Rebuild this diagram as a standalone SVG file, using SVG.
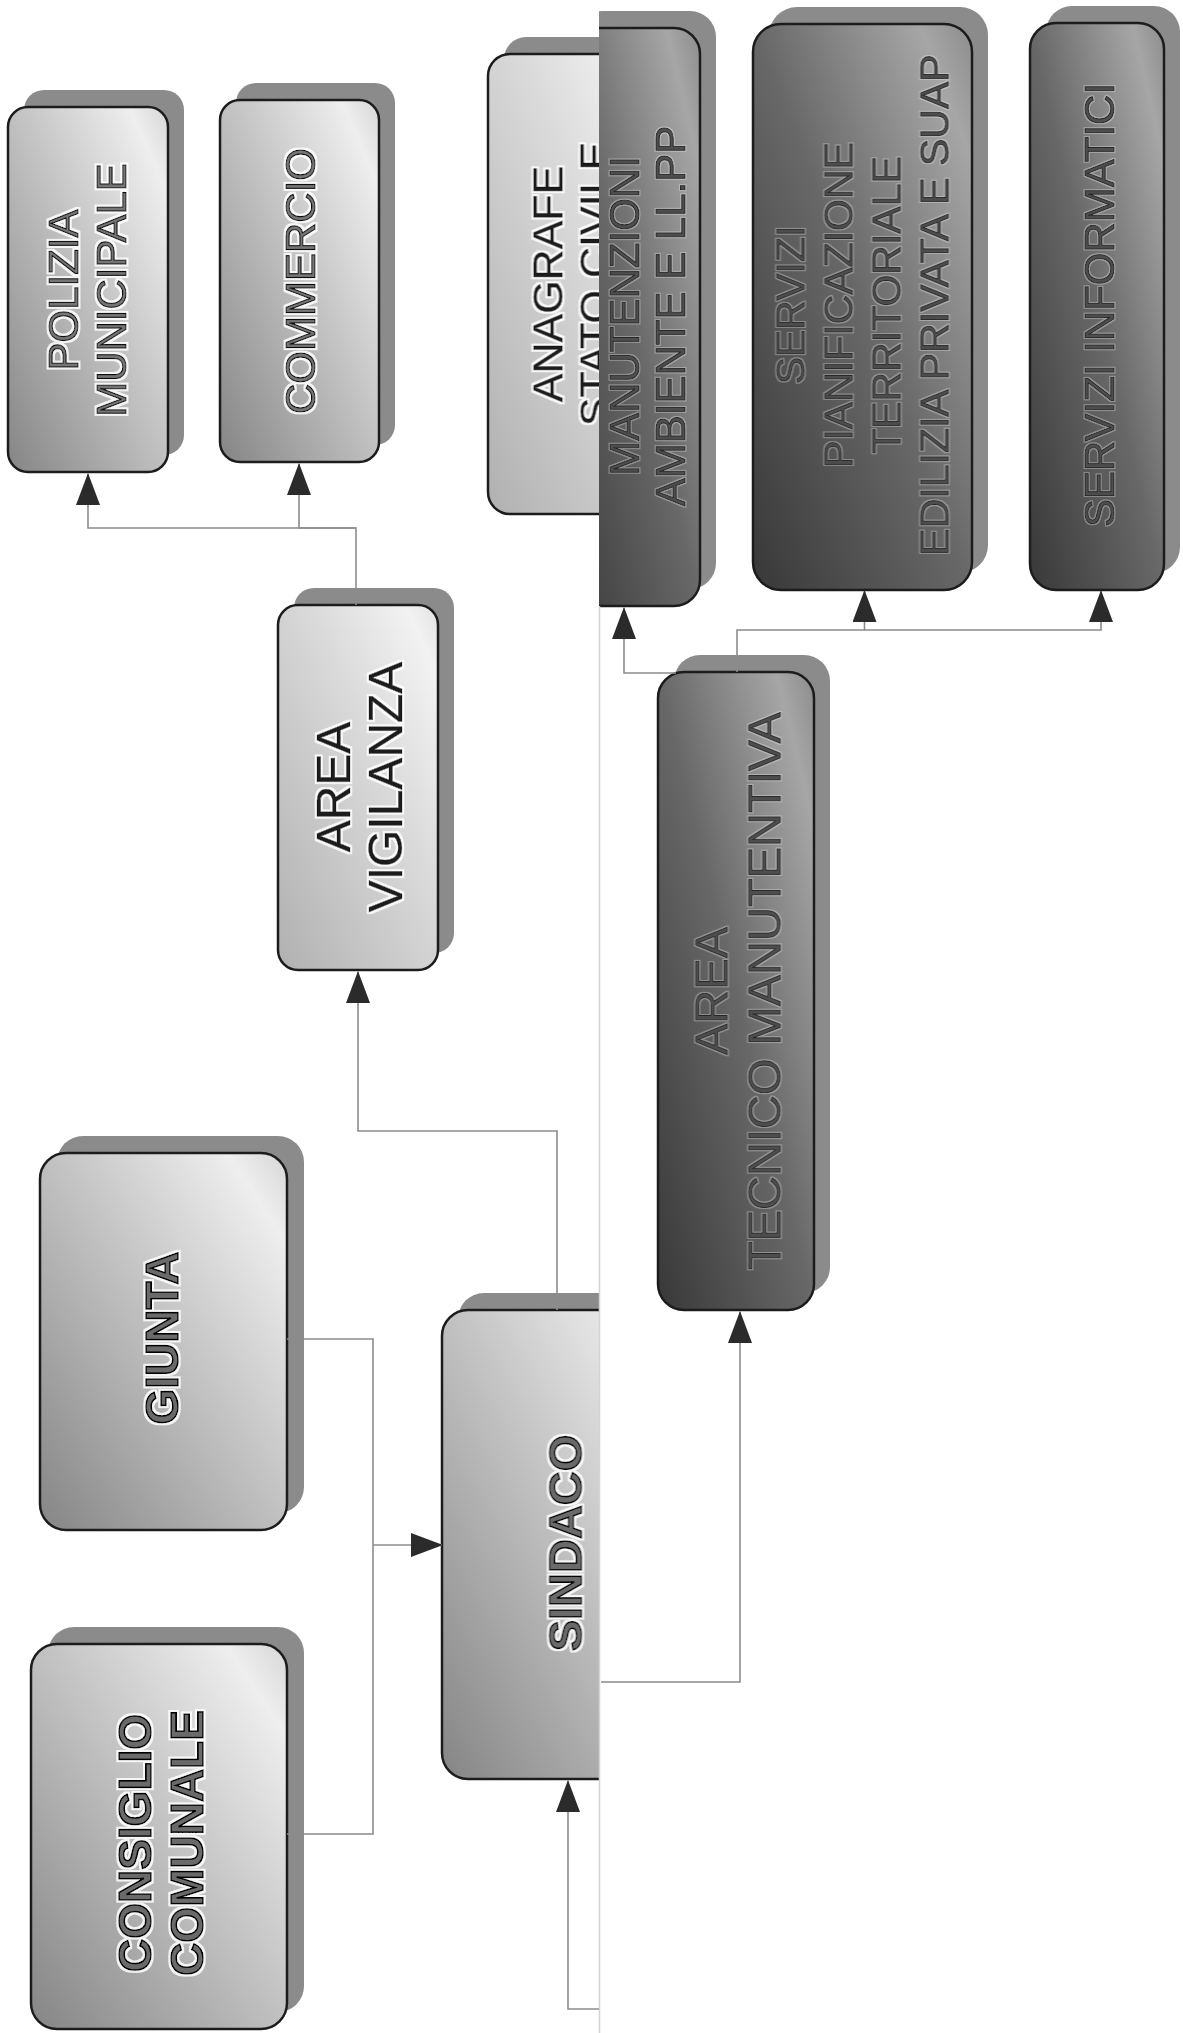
<svg xmlns="http://www.w3.org/2000/svg" width="1183" height="2033" viewBox="0 0 1183 2033">
<style>
.shadow{fill:#8b8b8b}
.front{stroke:#1c1c1c;stroke-width:2.5}
.lbl{font-family:"Liberation Sans",Arial,sans-serif;text-anchor:middle}
.t-light{fill:#747474;stroke:#111;stroke-width:1.2;filter:url(#halo)}
.t-black{fill:#1e1e1e;stroke:#000;stroke-width:0.6;filter:url(#halo)}
.t-bold{font-weight:bold;fill:#6a6a6a;stroke:#000;stroke-width:1.6;filter:url(#halo)}
.t-dark{fill:#4e4e4e;stroke:#262626;stroke-width:1;filter:url(#haloSoft)}
.conn{fill:none;stroke:#8c8c8c;stroke-width:1.6}
.seam{stroke:#d4d4d4;stroke-width:1.5}
</style>
<defs>
<linearGradient id="gLight" x1="0" y1="1" x2="1" y2="0">
<stop offset="0" stop-color="#858585"/><stop offset="0.55" stop-color="#c6c6c6"/><stop offset="0.88" stop-color="#eeeeee"/><stop offset="1" stop-color="#d6d6d6"/>
</linearGradient>
<linearGradient id="gPale" x1="0" y1="1" x2="1" y2="0">
<stop offset="0" stop-color="#b0b0b0"/><stop offset="0.6" stop-color="#dadada"/><stop offset="0.9" stop-color="#f2f2f2"/><stop offset="1" stop-color="#e2e2e2"/>
</linearGradient>
<linearGradient id="gDark" x1="0" y1="1" x2="1" y2="0">
<stop offset="0" stop-color="#383838"/><stop offset="0.5" stop-color="#686868"/><stop offset="0.88" stop-color="#a6a6a6"/><stop offset="1" stop-color="#8c8c8c"/>
</linearGradient>
<filter id="halo"><feMorphology in="SourceAlpha" operator="dilate" radius="1.6" result="d"/><feFlood flood-color="#ffffff" flood-opacity="0.85"/><feComposite in2="d" operator="in" result="h"/><feMerge><feMergeNode in="h"/><feMergeNode in="SourceGraphic"/></feMerge></filter>
<filter id="haloSoft"><feMorphology in="SourceAlpha" operator="dilate" radius="1.4" result="d"/><feFlood flood-color="#ffffff" flood-opacity="0.3"/><feComposite in2="d" operator="in" result="h"/><feMerge><feMergeNode in="h"/><feMergeNode in="SourceGraphic"/></feMerge></filter>
<clipPath id="clipLeft"><rect x="0" y="0" width="599" height="2033"/></clipPath>
<clipPath id="clipRight"><rect x="599" y="0" width="584" height="2033"/></clipPath>
<marker id="arr" markerUnits="userSpaceOnUse" markerWidth="32" markerHeight="24" viewBox="0 0 32 24" refX="31" refY="12" orient="auto"><path d="M0,0 L32,12 L0,24 Z" fill="#2b2b2b"/></marker>
</defs>
<rect x="0" y="0" width="1183" height="2033" fill="#ffffff"/>

<g id="polizia-municipale">
<rect class="shadow" x="24" y="90" width="160" height="365" rx="20"/>
<rect class="front" x="8" y="107" width="160" height="365" rx="20" fill="url(#gLight)"/>
<text class="lbl t-light" font-size="42" transform="translate(87,290) rotate(-90)"><tspan x="0" y="-9">POLIZIA</tspan><tspan x="0" y="39">MUNICIPALE</tspan></text>
</g>

<g id="commercio">
<rect class="shadow" x="236" y="83" width="159" height="362" rx="20"/>
<rect class="front" x="220" y="100" width="159" height="362" rx="20" fill="url(#gLight)"/>
<text class="lbl t-light" font-size="42" transform="translate(300,281) rotate(-90)"><tspan x="0" y="15">COMMERCIO</tspan></text>
</g>

<g id="anagrafe" clip-path="url(#clipLeft)">
<rect class="shadow" x="504" y="37" width="170" height="460" rx="22"/>
<rect class="front" x="488" y="54" width="170" height="460" rx="22" fill="url(#gPale)"/>
<text class="lbl t-black" font-size="43" transform="translate(570.5,284) rotate(-90)"><tspan x="0" y="-8">ANAGRAFE</tspan><tspan x="0" y="39">STATO CIVILE</tspan></text>
</g>

<g id="area-vigilanza">
<rect class="shadow" x="294" y="588" width="160" height="365" rx="20"/>
<rect class="front" x="278" y="605" width="160" height="365" rx="20" fill="url(#gPale)"/>
<text class="lbl t-black" font-size="48" transform="translate(359,787) rotate(-90)"><tspan x="0" y="-9">AREA</tspan><tspan x="0" y="43">VIGILANZA</tspan></text>
</g>

<g id="giunta">
<rect class="shadow" x="57" y="1136" width="247" height="377" rx="26"/>
<rect class="front" x="40" y="1153" width="247" height="377" rx="26" fill="url(#gLight)"/>
<text class="lbl t-bold" font-size="46" transform="translate(161,1338) rotate(-90)"><tspan x="0" y="16.5">GIUNTA</tspan></text>
</g>

<g id="consiglio-comunale">
<rect class="shadow" x="48" y="1627" width="256" height="385" rx="26"/>
<rect class="front" x="31" y="1644" width="256" height="385" rx="26" fill="url(#gLight)"/>
<text class="lbl t-bold" font-size="46" transform="translate(160,1843) rotate(-90)"><tspan x="0" y="-9.5">CONSIGLIO</tspan><tspan x="0" y="42.5">COMUNALE</tspan></text>
</g>

<g id="sindaco" clip-path="url(#clipLeft)">
<rect class="shadow" x="458" y="1293" width="245" height="469" rx="26"/>
<rect class="front" x="442" y="1310" width="245" height="469" rx="26" fill="url(#gLight)"/>
<text class="lbl t-bold" font-size="47" transform="translate(564.5,1543) rotate(-90)"><tspan x="0" y="17">SINDACO</tspan></text>
</g>

<g id="manutenzioni" clip-path="url(#clipRight)">
<rect class="shadow" x="576" y="11" width="140" height="578" rx="26"/>
<rect class="front" x="560" y="28" width="140" height="578" rx="26" fill="url(#gDark)"/>
<text class="lbl t-dark" font-size="42" transform="translate(647,316) rotate(-90)"><tspan x="0" y="-8">MANUTENZIONI</tspan><tspan x="0" y="38">AMBIENTE E LL.PP</tspan></text>
</g>

<g id="servizi-pianificazione">
<rect class="shadow" x="769" y="7" width="219" height="566" rx="28"/>
<rect class="front" x="753" y="24" width="219" height="566" rx="28" fill="url(#gDark)"/>
<text class="lbl t-dark" font-size="41" transform="translate(861.5,305) rotate(-90)"><tspan x="0" y="-57.3">SERVIZI</tspan><tspan x="0" y="-9.3">PIANIFICAZIONE</tspan><tspan x="0" y="38.7">TERRITORIALE</tspan><tspan x="0" y="86.7">EDILIZIA PRIVATA E SUAP</tspan></text>
</g>

<g id="servizi-informatici">
<rect class="shadow" x="1046" y="6" width="134" height="567" rx="26"/>
<rect class="front" x="1030" y="23" width="134" height="567" rx="26" fill="url(#gDark)"/>
<text class="lbl t-dark" font-size="42" transform="translate(1099,305) rotate(-90)"><tspan x="0" y="15">SERVIZI INFORMATICI</tspan></text>
</g>

<g id="area-tecnico-manutentiva">
<rect class="shadow" x="674" y="655" width="156" height="638" rx="26"/>
<rect class="front" x="658" y="672" width="156" height="638" rx="26" fill="url(#gDark)"/>
<text class="lbl t-dark" font-size="47" transform="translate(737.5,991) rotate(-90)"><tspan x="0" y="-9.7">AREA</tspan><tspan x="0" y="43.3">TECNICO MANUTENTIVA</tspan></text>
</g>

<g id="seam">
<line class="seam" x1="599.5" y1="606" x2="599.5" y2="2033"/>
</g>

<g id="connectors">
<path class="conn" d="M356 605 V528 H88 V474" marker-end="url(#arr)"/>
<path class="conn" d="M356 528 H299 V464" marker-end="url(#arr)"/>
<path class="conn" d="M557 1310 V1131 H358 V972" marker-end="url(#arr)"/>
<path class="conn" d="M287 1339 H373 V1834 H287"/>
<path class="conn" d="M373 1545 H442" marker-end="url(#arr)"/>
<path class="conn" d="M599 2009 H568 V1781" marker-end="url(#arr)"/>
<path class="conn" d="M601 1682 H740 V1312" marker-end="url(#arr)"/>
<path class="conn" d="M676 673 H624 V608" marker-end="url(#arr)"/>
<path class="conn" d="M737 672 V630 H864.5 V591" marker-end="url(#arr)"/>
<path class="conn" d="M864.5 630 H1101 V591" marker-end="url(#arr)"/>
</g>
</svg>
